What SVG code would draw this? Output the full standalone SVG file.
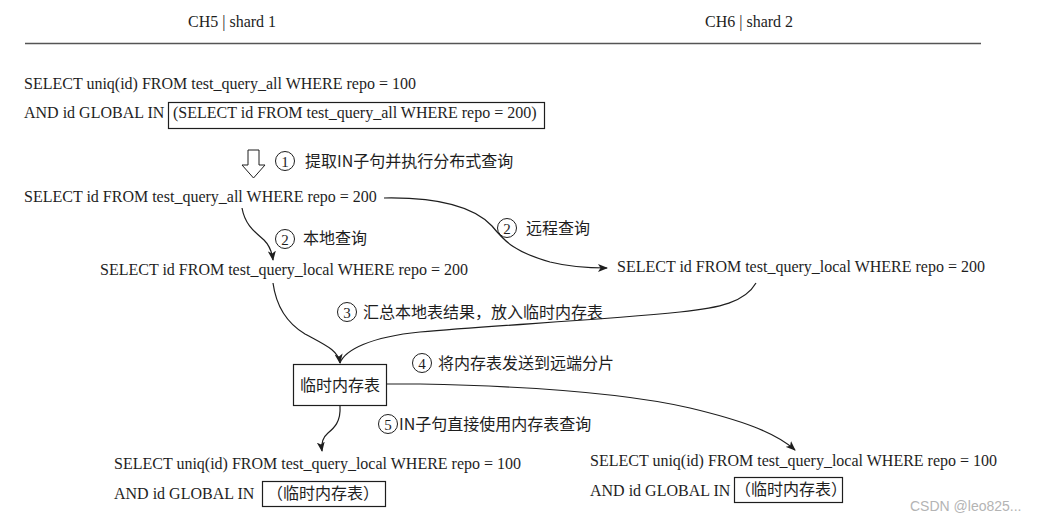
<svg xmlns="http://www.w3.org/2000/svg" width="1046" height="523" viewBox="0 0 1046 523">
<defs>
<style>
.t{font-family:"Liberation Serif","Noto Sans CJK SC",serif;font-size:16px;fill:#1e1e1e}
.c{font-family:"Noto Sans CJK SC","Liberation Serif",serif;font-size:16px;fill:#1e1e1e}
.n{font-family:"Liberation Serif",serif;font-size:15px;fill:#1e1e1e;text-anchor:middle}
.circ{fill:none;stroke:#1e1e1e;stroke-width:1}
.box{fill:none;stroke:#1e1e1e;stroke-width:1.2}
.conn{fill:none;stroke:#1e1e1e;stroke-width:1.2}
</style>
<marker id="ah" viewBox="0 0 10 8" refX="9" refY="4" markerWidth="10" markerHeight="8" markerUnits="userSpaceOnUse" orient="auto">
<path d="M0,0 L10,4 L0,8 L2.5,4 Z" fill="#1e1e1e"/>
</marker>
</defs>
<rect width="1046" height="523" fill="#ffffff"/>

<g id="header">
<text class="t" x="188" y="27">CH5 | shard 1</text>
<text class="t" x="705" y="27">CH6 | shard 2</text>
<line x1="25" y1="43.5" x2="981" y2="43.5" stroke="#555" stroke-width="1.5"/>
</g>

<g id="query-main">
<text class="t" x="24" y="89">SELECT uniq(id) FROM test_query_all WHERE repo = 100</text>
<text class="t" x="24" y="118">AND id GLOBAL IN</text>
<rect class="box" x="168.5" y="102.5" width="376" height="26"/>
<text class="t" x="173" y="118">(SELECT id FROM test_query_all WHERE repo = 200)</text>
</g>

<g id="step1">
<polygon points="248,150 259,150 259,165 265,165 253.5,178 242,165 248,165" fill="#fff" stroke="#1e1e1e" stroke-width="1"/>
<circle class="circ" cx="285" cy="161" r="9.5"/>
<text class="n" x="285" y="166.5">1</text>
<text class="c" x="305" y="167">提取IN子句并执行分布式查询</text>
</g>

<g id="query-dist">
<text class="t" x="24" y="202">SELECT id FROM test_query_all WHERE repo = 200</text>
</g>

<g id="query-local-1">
<text class="t" x="100" y="275">SELECT id FROM test_query_local WHERE repo = 200</text>
</g>

<g id="query-local-2">
<text class="t" x="617" y="272">SELECT id FROM test_query_local WHERE repo = 200</text>
</g>

<g id="temp-table">
<rect class="box" x="293.5" y="364.5" width="93" height="41"/>
<text class="c" x="340" y="391" text-anchor="middle">临时内存表</text>
</g>

<g id="final-1">
<text class="t" x="114" y="469">SELECT uniq(id) FROM test_query_local WHERE repo = 100</text>
<text class="t" x="114" y="499">AND id GLOBAL IN</text>
<rect class="box" x="262.5" y="481.5" width="123" height="25"/>
<text class="c" x="267" y="499">（临时内存表）</text>
</g>

<g id="final-2">
<text class="t" x="590" y="466">SELECT uniq(id) FROM test_query_local WHERE repo = 100</text>
<text class="t" x="590" y="496">AND id GLOBAL IN</text>
<rect class="box" x="734.5" y="477.5" width="108" height="25"/>
<text class="c" x="735" y="495">（临时内存表）</text>
</g>

<g id="labels">
<circle class="circ" cx="285" cy="239" r="9.5"/>
<text class="n" x="285" y="244.5">2</text>
<text class="c" x="303" y="244">本地查询</text>
<circle class="circ" cx="507" cy="228" r="9.5"/>
<text class="n" x="507" y="233.5">2</text>
<text class="c" x="526" y="234">远程查询</text>
<circle class="circ" cx="347" cy="312" r="9.5"/>
<text class="n" x="347" y="317.5">3</text>
<text class="c" x="363" y="318">汇总本地表结果，放入临时内存表</text>
<circle class="circ" cx="422" cy="363" r="9.5"/>
<text class="n" x="422" y="368.5">4</text>
<text class="c" x="438" y="369">将内存表发送到远端分片</text>
<circle class="circ" cx="388" cy="424" r="9.5"/>
<text class="n" x="388" y="429.5">5</text>
<text class="c" x="399" y="430">IN子句直接使用内存表查询</text>
</g>

<g id="connectors">
<path class="conn" d="M384,198 C440,197 475,208 492,226 C505,242 515,252 550,262 C570,267 590,268 607,268" marker-end="url(#ah)"/>
<path class="conn" d="M242,208 C245,225 255,232 264,240 C270,246 272,252 273,260" marker-end="url(#ah)"/>
<path class="conn" d="M273,283 C276,305 285,322 305,334 C325,345 338,350 340,363" marker-end="url(#ah)"/>
<path class="conn" d="M756,283 C745,302 720,308 680,312 C600,320 500,325 420,332 C370,337 345,350 340,363"/>
<path class="conn" d="M387,384 L420,384 C520,386 620,392 690,408 C740,420 775,432 795,450" marker-end="url(#ah)"/>
<path class="conn" d="M340,406 C341,422 334,428 328,433 C322,438 321,444 322,451" marker-end="url(#ah)"/>
</g>

<text x="910" y="511" font-family="'Liberation Sans',sans-serif" font-size="14" fill="#b4b4b4">CSDN @leo825...</text>
</svg>
